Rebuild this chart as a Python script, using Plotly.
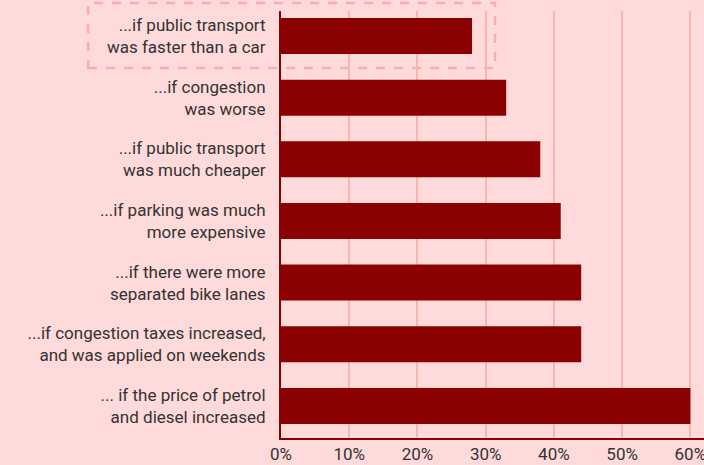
import plotly.graph_objects as go

categories = [
    "...if public transport<br>was faster than a car",
    "...if congestion<br>was worse",
    "...if public transport<br>was much cheaper",
    "...if parking was much<br>more expensive",
    "...if there were more<br>separated bike lanes",
    "...if congestion taxes increased,<br>and was applied on weekends",
    "... if the price of petrol<br>and diesel increased",
]
values = [28, 33, 38, 41, 44, 44, 60]
tick_vals = [0, 10, 20, 30, 40, 50, 60]
tick_text = ["0%", "10%", "20%", "30%", "40%", "50%", "60%"]

BG = "#FFDADA"
BAR = "#8B0000"
GRID = "#F6B6B1"
FONT = "Roboto, Inter, sans-serif"

fig = go.Figure(go.Bar(
    x=values, y=categories, orientation="h",
    marker=dict(color=BAR, line=dict(width=0)),
    hoverinfo="skip",
))

fig.update_layout(
    width=704, height=465,
    paper_bgcolor=BG, plot_bgcolor=BG,
    margin=dict(l=281, r=0, t=11, b=27, pad=0),
    bargap=0.416,
    showlegend=False,
    font=dict(family=FONT, size=17, color="#333333"),
    shapes=[dict(
        type="rect", xref="paper", yref="paper",
        x0=-0.456, x1=0.506, y0=0.8665, y1=1.019,
        line=dict(color="#F5B0AA", width=2.5, dash="dash"),
        fillcolor="rgba(0,0,0,0)", layer="below",
    )],
)
fig.update_xaxes(
    range=[0, 62], tickmode="array", tickvals=tick_vals, ticktext=tick_text,
    showgrid=True, gridcolor=GRID, gridwidth=1.5,
    showline=True, linecolor=BAR, linewidth=2,
    zeroline=False, ticks="", automargin=False, ticklabeloverflow="allow",
    tickfont=dict(family=FONT, size=17, color="#333333"),
)
fig.update_yaxes(
    range=[6.52, -0.405], showgrid=False,
    showline=True, linecolor=BAR, linewidth=2,
    ticks="", ticklabelstandoff=10, automargin=False,
    tickfont=dict(family=FONT, size=17, color="#333333"),
)

fig.write_html(
    "out.html",
    config={"displayModeBar": False},
    post_script="document.body.style.margin='0';document.body.style.background='#FFDADA';document.body.style.overflow='hidden';",
)
